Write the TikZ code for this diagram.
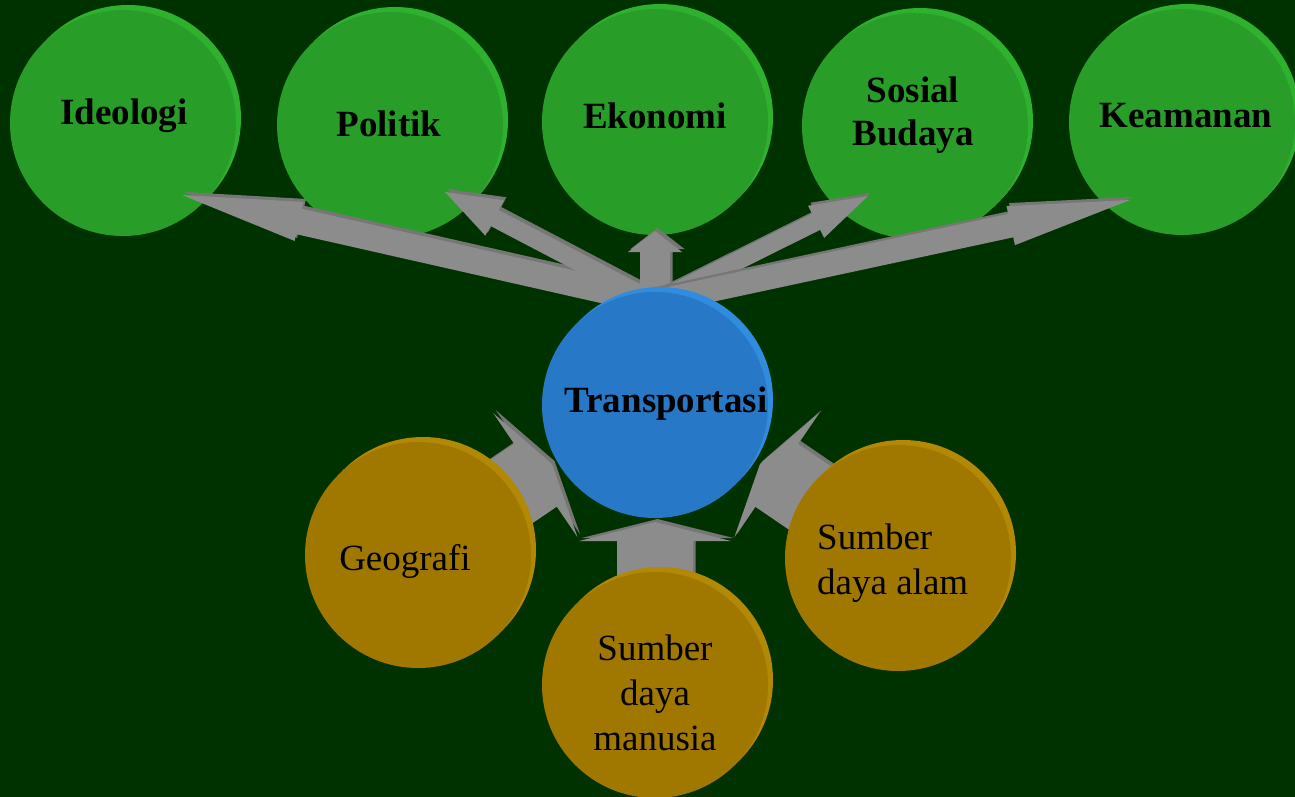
\documentclass[tikz,border=0pt]{standalone}
\usepackage{fontspec}
\setmainfont{Liberation Serif}
\usetikzlibrary{calc}
\definecolor{bg}{RGB}{0,50,0}
\definecolor{gfront}{RGB}{40,158,40}
\definecolor{gback}{RGB}{46,178,46}
\definecolor{bfront}{RGB}{40,120,200}
\definecolor{bback}{RGB}{48,140,222}
\definecolor{ofront}{RGB}{160,120,0}
\definecolor{oback}{RGB}{178,136,4}
\definecolor{arrowgray}{RGB}{140,140,140}
\definecolor{arrowdark}{RGB}{118,118,118}
\tikzset{
  disc/.style={circle,inner sep=0pt,minimum size=226pt},
  lbl/.style={align=center,inner sep=0pt,font=\fontsize{37}{45}\selectfont},
  blbl/.style={lbl,font=\fontsize{37}{43}\selectfont\bfseries},
}
% #1 name, #2 position, #3 front colour, #4 back colour
\newcommand\myball[4]{%
  \fill[#4] ($(#2)+(5,-5)$) circle (113);
  \node[disc,fill=#3] (#1) at (#2) {};
}
% #1 start, #2 tip, #3 shaft half width, #4 head half width, #5 head length
\newcommand\myarrow[5]{%
  \coordinate (hb) at ($(#2)!#5!(#1)$);
  \def\arrpath{($(#1)!#3!90:(#2)$) -- ($(hb)!#3!-90:(#1)$) -- ($(hb)!#4!-90:(#1)$) -- (#2)
    -- ($(hb)!#4!90:(#1)$) -- ($(hb)!#3!90:(#1)$) -- ($(#1)!#3!-90:(#2)$) -- cycle}
  \begin{scope}[transform canvas={shift={(2.5pt,3pt)}}]
    \fill[arrowdark] \arrpath;
  \end{scope}
  \fill[arrowgray] \arrpath;
}
\begin{document}
\begin{tikzpicture}[x=1pt,y=-1pt]
\fill[bg] (0,0) rectangle (1295,797);
\useasboundingbox (0,0) rectangle (1295,797);

% top circles
\myball{ideo}{123,123}{gfront}{gback}
\myball{poli}{390,125}{gfront}{gback}
\myball{eko}{655,122}{gfront}{gback}
\myball{sos}{915,126}{gfront}{gback}
\myball{kea}{1182,122}{gfront}{gback}

% arrow coordinates
\coordinate (hub) at (655,302);
\coordinate (tIdeo) at (182,195);
\coordinate (tPoli) at (445,192);
\coordinate (tEko) at (655,231);
\coordinate (tSos) at (868,196);
\coordinate (tKea) at (1130,200);

\myarrow{hub}{tIdeo}{13pt}{20pt}{120pt}
\myarrow{hub}{tPoli}{9pt}{20pt}{56pt}
\myarrow{hub}{tEko}{15pt}{27pt}{21pt}
\myarrow{hub}{tSos}{9pt}{18pt}{58pt}
\myarrow{hub}{tKea}{12pt}{20pt}{122pt}

% bottom arrows
\coordinate (sGeo) at (418,555);
\coordinate (sSdm) at (655,685);
\coordinate (sSda) at (898,558);
\coordinate (tGeo) at (552,464);
\coordinate (tSdm) at (655,522);
\coordinate (tSda) at (760,464);
\myarrow{sGeo}{tGeo}{38pt}{75pt}{20pt}
\myarrow{sSdm}{tSdm}{38pt}{76pt}{19pt}
\myarrow{sSda}{tSda}{38pt}{75pt}{20pt}

% centre
\myball{trans}{655,405}{bfront}{bback}

% bottom circles
\myball{geo}{418,555}{ofront}{oback}
\myball{sdm}{655,685}{ofront}{oback}
\myball{sda}{898,558}{ofront}{oback}

% labels
\node[blbl] (lIdeo) at (124,116) {Ideologi};
\node[blbl] (lPoli) at (389,124) {Politik};
\node[blbl] (lEko) at (655,116) {Ekonomi};
\node[blbl] (lSos) at (913,115) {Sosial\\Budaya};
\node[blbl] (lKea) at (1186,116) {Keamanan};
\node[blbl] (lTrans) at (666,404) {Transportasi};
\node[lbl] (lGeo) at (405,561) {Geografi};
\node[lbl,align=left,anchor=west] (lSda) at (817,563) {Sumber\\daya alam};
\node[lbl] (lSdm) at (655,693) {Sumber\\daya\\manusia};
\end{tikzpicture}
\end{document}
